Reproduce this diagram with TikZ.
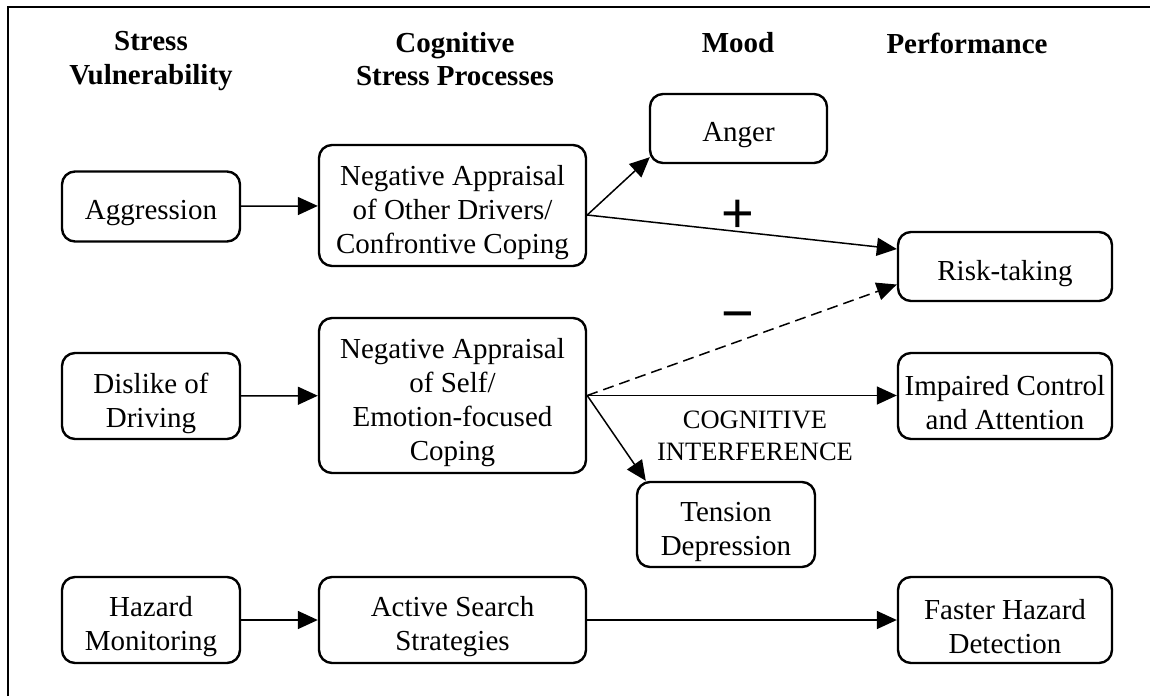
\documentclass[tikz,border=0pt]{standalone}
\usepackage{fontspec}
\setmainfont{Liberation Serif}
\newfontfamily\signfont{Liberation Sans}
\usetikzlibrary{arrows.meta,calc}

\begin{document}
\begin{tikzpicture}[x=1pt,y=-1pt,
  box/.style={draw, line width=2.4pt, rounded corners=13pt, inner sep=0pt},
  txt/.style={align=center, font=\fontsize{29}{34}\selectfont, inner sep=0pt, yshift=-7pt},
  head/.style={font=\fontsize{29}{33.5}\selectfont\bfseries, align=center, inner sep=0pt},
  arr/.style={line width=1.5pt, -{Triangle[length=20pt,width=18pt]}},
  sign/.style={font=\signfont\fontsize{56}{56}\selectfont, inner sep=0pt},
  note/.style={font=\fontsize{26.5}{32}\selectfont, align=center, inner sep=0pt}]

\useasboundingbox (0,0) rectangle (1150,696);

% frame edges
\draw[line width=2pt] (8,696) -- (8,7) -- (1150,7);

% column headings
\node[head] (h1) at (151,61) {Stress\\Vulnerability};
\node[head] (h2) at (455,59) {Cognitive\\Stress Processes};
\node[head] (h3) at (738,43) {Mood};
\node[head] (h4) at (967,43) {Performance};

% vulnerability factors
\node[box, minimum width=178pt, minimum height=70pt,
  label={[txt]center:{Aggression}}] (agg) at (151,206.5) {};
\node[box, minimum width=178pt, minimum height=86pt,
  label={[txt]center:{Dislike of\\Driving}}] (dis) at (151,396) {};
\node[box, minimum width=178pt, minimum height=86pt,
  label={[txt]center:{Hazard\\Monitoring}}] (haz) at (151,620) {};

% cognitive processes
\node[box, minimum width=267pt, minimum height=121pt,
  label={[txt]center:{Negative Appraisal\\of Other Drivers/\\Confrontive Coping}}] (nego) at (452.5,205.5) {};
\node[box, minimum width=267pt, minimum height=155pt,
  label={[txt]center:{Negative Appraisal\\of Self/\\Emotion-focused\\Coping}}] (negs) at (452.5,395.5) {};
\node[box, minimum width=267pt, minimum height=86pt,
  label={[txt]center:{Active Search\\Strategies}}] (act) at (452.5,620) {};

% mood
\node[box, minimum width=177pt, minimum height=69pt,
  label={[txt]center:{Anger}}] (anger) at (738.5,128.5) {};
\node[box, minimum width=178pt, minimum height=85pt,
  label={[txt]center:{Tension\\Depression}}] (tens) at (726,524.5) {};

% performance
\node[box, minimum width=214pt, minimum height=69pt,
  label={[txt]center:{Risk-taking}}] (risk) at (1005,266.5) {};
\node[box, minimum width=214pt, minimum height=86pt,
  label={[txt]center:{Impaired Control\\and Attention}}] (imp) at (1005,396) {};
\node[box, minimum width=214pt, minimum height=86pt,
  label={[txt]center:{Faster Hazard\\Detection}}] (fast) at (1005,620) {};

% branching points on the appraisal boxes
\coordinate (po) at ($(nego.east)+(0,-9.5pt)$);
\coordinate (ps) at (negs.east);

% connectors
\draw[arr] (agg) -- (nego);
\draw[arr] (dis) -- (negs);
\draw[arr] (haz) -- (act);
\draw[arr] (act) -- (fast);
\draw[arr] (po) -- ([xshift=1pt,yshift=7pt]anger.south west);
\draw[arr] (po) -- ([yshift=17.5pt]risk.west);
\draw[arr, dash pattern=on 11pt off 6pt] (ps) -- ([yshift=-18pt]risk.west);
\draw[arr] (ps) -- (imp.west |- ps);
\draw[arr] (ps) -- ([xshift=10pt]tens.north west);

% signs and annotation
\node[sign] (plus) at (738,216) {+};
\node[sign] (minus) at (738,322) {−};
\node[note] (cog) at (755,436) {COGNITIVE\\INTERFERENCE};

\end{tikzpicture}
\end{document}
